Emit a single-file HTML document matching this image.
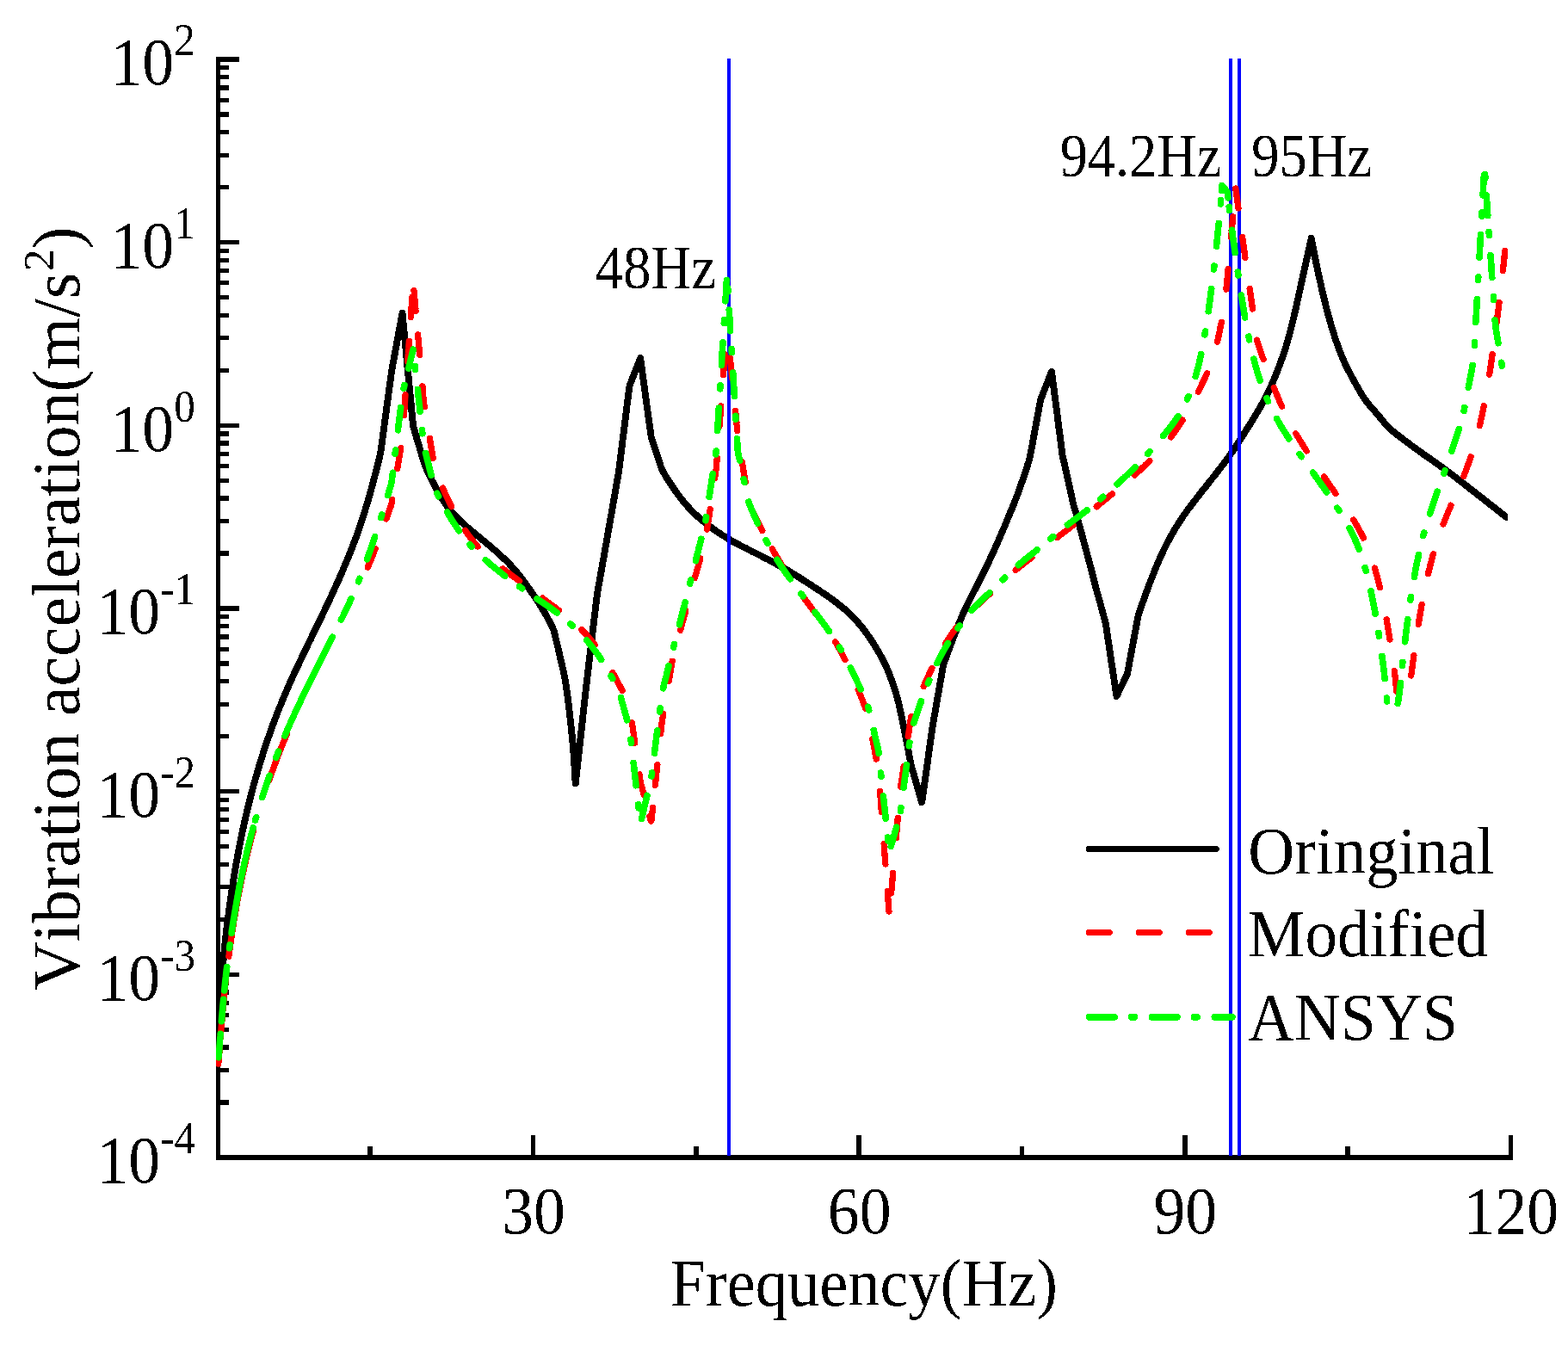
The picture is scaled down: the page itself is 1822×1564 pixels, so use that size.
<!DOCTYPE html>
<html><head><meta charset="utf-8"><title>Vibration acceleration vs Frequency</title>
<style>html,body{margin:0;padding:0;background:#fff}svg{display:block}text{font-family:"Liberation Serif","DejaVu Serif",serif;fill:#000;font-kerning:none;font-variant-ligatures:none}</style></head>
<body>
<svg width="1822" height="1564" viewBox="0 0 1822 1564">
<rect width="1822" height="1564" fill="#fff"/>
<defs><clipPath id="c"><rect x="251" y="60" width="1501.3" height="1290"/></clipPath><filter id="crisp" filterUnits="userSpaceOnUse" x="0" y="0" width="1822" height="1564" color-interpolation-filters="sRGB"><feComponentTransfer><feFuncA type="discrete" tableValues="0 1"/></feComponentTransfer></filter></defs>
<g filter="url(#crisp)">
<g fill="#000" shape-rendering="crispEdges">
<rect x="251.0" y="66.4" width="5.0" height="1281.4"/>
<rect x="251.0" y="1342.0" width="1507.0" height="5.8"/>
<rect x="253.5" y="66.4" width="24.1" height="5.2"/>
<rect x="253.5" y="215.0" width="12.5" height="5.2"/>
<rect x="253.5" y="177.6" width="12.5" height="5.2"/>
<rect x="253.5" y="151.0" width="12.5" height="5.2"/>
<rect x="253.5" y="130.4" width="12.5" height="5.2"/>
<rect x="253.5" y="113.6" width="12.5" height="5.2"/>
<rect x="253.5" y="99.3" width="12.5" height="5.2"/>
<rect x="253.5" y="87.0" width="12.5" height="5.2"/>
<rect x="253.5" y="76.1" width="12.5" height="5.2"/>
<rect x="253.5" y="279.0" width="24.1" height="5.2"/>
<rect x="253.5" y="427.7" width="12.5" height="5.2"/>
<rect x="253.5" y="390.2" width="12.5" height="5.2"/>
<rect x="253.5" y="363.7" width="12.5" height="5.2"/>
<rect x="253.5" y="343.1" width="12.5" height="5.2"/>
<rect x="253.5" y="326.2" width="12.5" height="5.2"/>
<rect x="253.5" y="312.0" width="12.5" height="5.2"/>
<rect x="253.5" y="299.7" width="12.5" height="5.2"/>
<rect x="253.5" y="288.8" width="12.5" height="5.2"/>
<rect x="253.5" y="491.7" width="24.1" height="5.2"/>
<rect x="253.5" y="640.3" width="12.5" height="5.2"/>
<rect x="253.5" y="602.9" width="12.5" height="5.2"/>
<rect x="253.5" y="576.3" width="12.5" height="5.2"/>
<rect x="253.5" y="555.7" width="12.5" height="5.2"/>
<rect x="253.5" y="538.9" width="12.5" height="5.2"/>
<rect x="253.5" y="524.6" width="12.5" height="5.2"/>
<rect x="253.5" y="512.3" width="12.5" height="5.2"/>
<rect x="253.5" y="501.4" width="12.5" height="5.2"/>
<rect x="253.5" y="704.4" width="24.1" height="5.2"/>
<rect x="253.5" y="853.0" width="12.5" height="5.2"/>
<rect x="253.5" y="815.5" width="12.5" height="5.2"/>
<rect x="253.5" y="789.0" width="12.5" height="5.2"/>
<rect x="253.5" y="768.4" width="12.5" height="5.2"/>
<rect x="253.5" y="751.5" width="12.5" height="5.2"/>
<rect x="253.5" y="737.3" width="12.5" height="5.2"/>
<rect x="253.5" y="725.0" width="12.5" height="5.2"/>
<rect x="253.5" y="714.1" width="12.5" height="5.2"/>
<rect x="253.5" y="917.0" width="24.1" height="5.2"/>
<rect x="253.5" y="1065.6" width="12.5" height="5.2"/>
<rect x="253.5" y="1028.2" width="12.5" height="5.2"/>
<rect x="253.5" y="1001.6" width="12.5" height="5.2"/>
<rect x="253.5" y="981.0" width="12.5" height="5.2"/>
<rect x="253.5" y="964.2" width="12.5" height="5.2"/>
<rect x="253.5" y="949.9" width="12.5" height="5.2"/>
<rect x="253.5" y="937.6" width="12.5" height="5.2"/>
<rect x="253.5" y="926.7" width="12.5" height="5.2"/>
<rect x="253.5" y="1129.7" width="24.1" height="5.2"/>
<rect x="253.5" y="1278.3" width="12.5" height="5.2"/>
<rect x="253.5" y="1240.8" width="12.5" height="5.2"/>
<rect x="253.5" y="1214.3" width="12.5" height="5.2"/>
<rect x="253.5" y="1193.7" width="12.5" height="5.2"/>
<rect x="253.5" y="1176.8" width="12.5" height="5.2"/>
<rect x="253.5" y="1162.6" width="12.5" height="5.2"/>
<rect x="253.5" y="1150.3" width="12.5" height="5.2"/>
<rect x="253.5" y="1139.4" width="12.5" height="5.2"/>
<rect x="253.5" y="1342.3" width="24.1" height="5.2"/>
<rect x="616.7" y="1318.9" width="5.6" height="26.0"/>
<rect x="995.3" y="1318.9" width="5.6" height="26.0"/>
<rect x="1374.0" y="1318.9" width="5.6" height="26.0"/>
<rect x="1752.6" y="1318.9" width="5.6" height="26.0"/>
<rect x="427.4" y="1332.0" width="5.6" height="12.9"/>
<rect x="806.0" y="1332.0" width="5.6" height="12.9"/>
<rect x="1184.7" y="1332.0" width="5.6" height="12.9"/>
<rect x="1563.3" y="1332.0" width="5.6" height="12.9"/>
</g>
<g clip-path="url(#c)" fill="none" stroke-linejoin="round" stroke-linecap="round" stroke-width="7.9">
<path d="M253.8,1185.0 L255.3,1165.0 L256.9,1145.5 L258.5,1127.0 L260.1,1109.8 L261.6,1094.4 L263.2,1080.5 L264.8,1067.9 L266.3,1056.1 L267.9,1044.9 L269.5,1034.2 L271.1,1023.9 L272.6,1014.2 L274.2,1005.0 L275.8,996.2 L277.4,987.8 L278.9,979.8 L280.5,972.0 L282.1,964.5 L283.6,957.3 L285.2,950.3 L286.8,943.6 L288.4,937.0 L289.9,930.7 L291.5,924.6 L293.1,918.6 L294.6,912.7 L296.2,907.1 L297.8,901.5 L299.4,896.1 L300.9,890.8 L302.5,885.7 L304.1,880.6 L305.6,875.6 L307.2,870.8 L308.8,866.0 L310.4,861.3 L311.9,856.7 L313.5,852.2 L315.1,847.8 L316.6,843.5 L318.2,839.2 L319.8,835.0 L321.4,830.9 L322.9,826.9 L324.5,822.9 L326.1,819.0 L327.6,815.1 L329.2,811.4 L330.8,807.6 L332.4,803.9 L333.9,800.3 L335.5,796.7 L337.1,793.2 L338.6,789.7 L340.2,786.2 L341.8,782.8 L343.4,779.4 L344.9,776.0 L346.5,772.7 L348.1,769.4 L349.7,766.1 L351.2,762.8 L352.8,759.5 L354.4,756.2 L355.9,752.9 L357.5,749.7 L359.1,746.4 L360.7,743.2 L362.2,740.0 L363.8,736.7 L365.4,733.5 L366.9,730.3 L368.5,727.0 L370.1,723.8 L371.7,720.5 L373.2,717.3 L374.8,714.0 L376.4,710.8 L377.9,707.5 L379.5,704.2 L381.1,700.9 L382.7,697.6 L384.2,694.2 L385.8,690.8 L387.4,687.4 L388.9,683.9 L390.5,680.5 L392.1,676.9 L393.7,673.4 L395.2,669.8 L396.8,666.2 L398.4,662.5 L399.9,658.8 L401.5,655.1 L403.1,651.3 L404.7,647.5 L406.2,643.7 L407.8,639.7 L409.4,635.8 L410.9,631.7 L412.5,627.5 L414.1,623.3 L415.7,618.9 L417.2,614.5 L418.8,609.9 L420.4,605.2 L422.0,600.3 L423.5,595.4 L425.1,590.2 L426.7,585.0 L428.2,579.6 L429.8,574.1 L431.4,568.4 L433.0,562.7 L434.5,556.8 L436.1,550.9 L437.7,544.9 L439.2,538.6 L440.8,532.0 L442.4,525.0 L444.0,513.4 L445.5,501.8 L447.1,490.1 L448.7,478.5 L450.2,466.9 L451.8,455.2 L453.4,443.6 L455.0,432.0 L456.5,423.3 L458.1,414.7 L459.7,406.1 L461.2,397.6 L462.8,389.0 L464.4,380.5 L466.0,372.0 L467.5,363.6 L469.1,380.3 L470.7,396.9 L472.2,413.4 L473.8,429.9 L475.4,446.3 L477.0,462.7 L478.5,478.9 L480.1,495.0 L481.7,500.4 L483.2,505.7 L484.8,511.0 L486.4,516.4 L488.0,521.7 L489.5,527.0 L491.1,532.3 L492.7,537.5 L494.3,541.5 L495.8,545.3 L497.4,548.8 L499.0,552.1 L500.5,555.4 L502.1,558.5 L503.7,561.6 L505.3,564.7 L506.8,567.6 L508.4,570.5 L510.0,573.3 L511.5,575.9 L513.1,578.5 L514.7,581.0 L516.3,583.3 L517.8,585.6 L519.4,587.8 L521.0,589.9 L522.5,591.9 L524.1,593.8 L525.7,595.7 L527.3,597.5 L528.8,599.2 L530.4,600.9 L532.0,602.5 L533.5,604.1 L535.1,605.6 L536.7,607.1 L538.3,608.5 L539.8,609.9 L541.4,611.3 L543.0,612.6 L544.5,614.0 L546.1,615.3 L547.7,616.6 L549.3,617.9 L550.8,619.1 L552.4,620.4 L554.0,621.7 L555.5,623.0 L557.1,624.3 L558.7,625.6 L560.3,626.9 L561.8,628.2 L563.4,629.5 L565.0,630.9 L566.6,632.2 L568.1,633.5 L569.7,634.9 L571.3,636.2 L572.8,637.5 L574.4,638.9 L576.0,640.3 L577.6,641.6 L579.1,643.0 L580.7,644.5 L582.3,645.9 L583.8,647.3 L585.4,648.8 L587.0,650.3 L588.6,651.9 L590.1,653.4 L591.7,655.1 L593.3,656.7 L594.8,658.4 L596.4,660.1 L598.0,661.9 L599.6,663.8 L601.1,665.7 L602.7,667.6 L604.3,669.7 L605.8,671.7 L607.4,673.8 L609.0,675.9 L610.6,678.1 L612.1,680.3 L613.7,682.5 L615.3,684.7 L616.8,687.0 L618.4,689.3 L620.0,691.6 L621.6,693.9 L623.1,696.2 L624.7,698.6 L626.3,701.0 L627.9,703.5 L629.4,706.0 L631.0,708.6 L632.6,711.3 L634.1,714.1 L635.7,716.9 L637.3,719.8 L638.9,722.8 L640.4,725.9 L642.0,729.2 L643.6,732.8 L645.1,739.2 L646.7,745.8 L648.3,752.4 L649.9,759.1 L651.4,765.8 L653.0,772.6 L654.6,779.5 L656.1,786.5 L657.7,796.3 L659.3,807.5 L660.9,820.2 L662.4,833.9 L664.0,848.0 L665.6,863.8 L667.1,884.1 L668.7,910.5 L670.3,896.3 L671.9,882.0 L673.4,867.8 L675.0,853.5 L676.6,839.3 L678.1,825.0 L679.7,810.7 L681.3,796.5 L682.9,783.2 L684.4,770.0 L686.0,756.7 L687.6,743.5 L689.1,730.3 L690.7,717.1 L692.3,703.9 L693.9,690.6 L695.4,681.7 L697.0,672.9 L698.6,664.0 L700.2,655.1 L701.7,646.3 L703.3,637.4 L704.9,628.5 L706.4,619.6 L708.0,610.7 L709.6,601.8 L711.2,592.8 L712.7,583.9 L714.3,575.0 L715.9,566.0 L717.4,557.0 L719.0,547.9 L720.6,535.2 L722.2,522.6 L723.7,510.0 L725.3,497.4 L726.9,484.9 L728.4,472.4 L730.0,460.1 L731.6,448.0 L733.2,444.0 L734.7,440.0 L736.3,435.9 L737.9,431.9 L739.4,427.9 L741.0,423.9 L742.6,419.9 L744.2,416.0 L745.7,427.7 L747.3,439.3 L748.9,450.9 L750.4,462.4 L752.0,474.0 L753.6,485.4 L755.2,496.8 L756.7,508.0 L758.3,512.9 L759.9,517.7 L761.4,522.5 L763.0,527.3 L764.6,532.1 L766.2,536.9 L767.7,541.5 L769.3,546.0 L770.9,548.8 L772.5,551.5 L774.0,554.0 L775.6,556.5 L777.2,559.0 L778.7,561.4 L780.3,563.8 L781.9,566.2 L783.5,568.5 L785.0,570.8 L786.6,573.0 L788.2,575.2 L789.7,577.2 L791.3,579.3 L792.9,581.3 L794.5,583.2 L796.0,585.1 L797.6,586.9 L799.2,588.7 L800.7,590.4 L802.3,592.0 L803.9,593.7 L805.5,595.2 L807.0,596.7 L808.6,598.2 L810.2,599.7 L811.7,601.1 L813.3,602.5 L814.9,603.8 L816.5,605.1 L818.0,606.4 L819.6,607.7 L821.2,608.9 L822.7,610.1 L824.3,611.3 L825.9,612.5 L827.5,613.7 L829.0,614.8 L830.6,615.9 L832.2,617.0 L833.7,618.1 L835.3,619.2 L836.9,620.2 L838.5,621.2 L840.0,622.2 L841.6,623.2 L843.2,624.2 L844.8,625.1 L846.3,626.1 L847.9,627.0 L849.5,627.9 L851.0,628.8 L852.6,629.7 L854.2,630.6 L855.8,631.4 L857.3,632.3 L858.9,633.1 L860.5,633.9 L862.0,634.7 L863.6,635.5 L865.2,636.3 L866.8,637.1 L868.3,637.9 L869.9,638.7 L871.5,639.5 L873.0,640.3 L874.6,641.1 L876.2,641.9 L877.8,642.6 L879.3,643.4 L880.9,644.2 L882.5,645.0 L884.0,645.8 L885.6,646.6 L887.2,647.4 L888.8,648.2 L890.3,649.0 L891.9,649.8 L893.5,650.6 L895.0,651.4 L896.6,652.2 L898.2,653.1 L899.8,653.9 L901.3,654.8 L902.9,655.7 L904.5,656.6 L906.1,657.4 L907.6,658.3 L909.2,659.2 L910.8,660.2 L912.3,661.1 L913.9,662.0 L915.5,662.9 L917.1,663.9 L918.6,664.8 L920.2,665.8 L921.8,666.8 L923.3,667.7 L924.9,668.7 L926.5,669.7 L928.1,670.7 L929.6,671.6 L931.2,672.6 L932.8,673.6 L934.3,674.6 L935.9,675.7 L937.5,676.7 L939.1,677.7 L940.6,678.7 L942.2,679.7 L943.8,680.8 L945.3,681.8 L946.9,682.8 L948.5,683.8 L950.1,684.9 L951.6,685.9 L953.2,687.0 L954.8,688.0 L956.3,689.1 L957.9,690.2 L959.5,691.2 L961.1,692.3 L962.6,693.4 L964.2,694.5 L965.8,695.7 L967.3,696.8 L968.9,698.0 L970.5,699.1 L972.1,700.3 L973.6,701.5 L975.2,702.8 L976.8,704.0 L978.4,705.3 L979.9,706.6 L981.5,708.0 L983.1,709.4 L984.6,710.8 L986.2,712.2 L987.8,713.7 L989.4,715.2 L990.9,716.8 L992.5,718.4 L994.1,720.1 L995.6,721.8 L997.2,723.6 L998.8,725.5 L1000.4,727.4 L1001.9,729.3 L1003.5,731.3 L1005.1,733.4 L1006.6,735.5 L1008.2,737.7 L1009.8,740.0 L1011.4,742.3 L1012.9,744.7 L1014.5,747.2 L1016.1,749.7 L1017.6,752.3 L1019.2,754.9 L1020.8,757.6 L1022.4,760.3 L1023.9,763.1 L1025.5,766.1 L1027.1,769.1 L1028.6,772.3 L1030.2,775.7 L1031.8,779.3 L1033.4,783.2 L1034.9,787.3 L1036.5,791.7 L1038.1,796.3 L1039.6,801.0 L1041.2,806.1 L1042.8,811.6 L1044.4,817.8 L1045.9,824.7 L1047.5,832.0 L1049.1,839.7 L1050.7,847.6 L1052.2,855.6 L1053.8,863.6 L1055.4,871.8 L1056.9,880.1 L1058.5,888.7 L1060.1,894.0 L1061.7,899.4 L1063.2,904.8 L1064.8,910.3 L1066.4,915.8 L1067.9,921.3 L1069.5,926.8 L1071.1,932.4 L1072.7,921.5 L1074.2,910.6 L1075.8,899.6 L1077.4,888.6 L1078.9,877.5 L1080.5,866.4 L1082.1,855.2 L1083.7,843.9 L1085.2,834.9 L1086.8,826.0 L1088.4,817.0 L1089.9,808.1 L1091.5,799.1 L1093.1,790.1 L1094.7,781.1 L1096.2,772.0 L1097.8,767.9 L1099.4,763.7 L1100.9,759.4 L1102.5,755.1 L1104.1,750.9 L1105.7,746.7 L1107.2,742.5 L1108.8,738.4 L1110.4,734.4 L1111.9,730.4 L1113.5,726.5 L1115.1,722.6 L1116.7,718.8 L1118.2,715.1 L1119.8,711.5 L1121.4,708.0 L1123.0,704.6 L1124.5,701.4 L1126.1,698.2 L1127.7,695.1 L1129.2,692.0 L1130.8,688.9 L1132.4,685.9 L1134.0,682.8 L1135.5,679.7 L1137.1,676.6 L1138.7,673.5 L1140.2,670.4 L1141.8,667.3 L1143.4,664.1 L1145.0,660.9 L1146.5,657.7 L1148.1,654.5 L1149.7,651.2 L1151.2,647.8 L1152.8,644.5 L1154.4,641.0 L1156.0,637.6 L1157.5,634.0 L1159.1,630.5 L1160.7,626.9 L1162.2,623.3 L1163.8,619.6 L1165.4,615.9 L1167.0,612.2 L1168.5,608.5 L1170.1,604.8 L1171.7,601.0 L1173.2,597.2 L1174.8,593.4 L1176.4,589.6 L1178.0,585.7 L1179.5,581.7 L1181.1,577.7 L1182.7,573.6 L1184.2,569.3 L1185.8,564.9 L1187.4,560.4 L1189.0,555.9 L1190.5,551.2 L1192.1,546.5 L1193.7,541.5 L1195.3,536.4 L1196.8,531.0 L1198.4,522.5 L1200.0,513.9 L1201.5,505.5 L1203.1,497.0 L1204.7,488.6 L1206.3,480.1 L1207.8,471.8 L1209.4,463.7 L1211.0,459.7 L1212.5,455.7 L1214.1,451.7 L1215.7,447.7 L1217.3,443.7 L1218.8,439.7 L1220.4,435.7 L1222.0,431.7 L1223.5,443.7 L1225.1,455.8 L1226.7,467.9 L1228.3,480.1 L1229.8,492.2 L1231.4,504.4 L1233.0,516.7 L1234.5,529.0 L1236.1,535.9 L1237.7,542.8 L1239.3,549.8 L1240.8,556.9 L1242.4,564.0 L1244.0,571.2 L1245.5,578.3 L1247.1,585.6 L1248.7,590.9 L1250.3,596.3 L1251.8,602.0 L1253.4,607.7 L1255.0,613.4 L1256.6,619.1 L1258.1,624.9 L1259.7,630.7 L1261.3,636.5 L1262.8,642.4 L1264.4,648.2 L1266.0,654.1 L1267.6,660.0 L1269.1,666.0 L1270.7,672.2 L1272.3,678.7 L1273.8,684.4 L1275.4,690.1 L1277.0,695.8 L1278.6,701.5 L1280.1,707.2 L1281.7,713.0 L1283.3,718.7 L1284.8,724.5 L1286.4,735.2 L1288.0,745.8 L1289.6,756.4 L1291.1,766.9 L1292.7,777.5 L1294.3,788.0 L1295.8,798.5 L1297.4,809.0 L1299.0,805.7 L1300.6,802.4 L1302.1,799.2 L1303.7,795.9 L1305.3,792.6 L1306.8,789.3 L1308.4,786.0 L1310.0,782.8 L1311.6,774.4 L1313.1,766.0 L1314.7,757.6 L1316.3,749.2 L1317.8,740.7 L1319.4,732.3 L1321.0,723.9 L1322.6,715.5 L1324.1,710.7 L1325.7,706.1 L1327.3,701.5 L1328.9,697.1 L1330.4,692.7 L1332.0,688.4 L1333.6,684.1 L1335.1,679.9 L1336.7,675.7 L1338.3,671.6 L1339.9,667.6 L1341.4,663.7 L1343.0,659.9 L1344.6,656.1 L1346.1,652.5 L1347.7,648.9 L1349.3,645.4 L1350.9,642.0 L1352.4,638.7 L1354.0,635.5 L1355.6,632.4 L1357.1,629.4 L1358.7,626.4 L1360.3,623.5 L1361.9,620.7 L1363.4,618.0 L1365.0,615.3 L1366.6,612.7 L1368.1,610.1 L1369.7,607.7 L1371.3,605.2 L1372.9,602.9 L1374.4,600.5 L1376.0,598.3 L1377.6,596.0 L1379.1,593.8 L1380.7,591.7 L1382.3,589.5 L1383.9,587.4 L1385.4,585.4 L1387.0,583.3 L1388.6,581.3 L1390.1,579.2 L1391.7,577.2 L1393.3,575.2 L1394.9,573.2 L1396.4,571.2 L1398.0,569.2 L1399.6,567.3 L1401.2,565.3 L1402.7,563.3 L1404.3,561.3 L1405.9,559.3 L1407.4,557.4 L1409.0,555.4 L1410.6,553.4 L1412.2,551.4 L1413.7,549.4 L1415.3,547.3 L1416.9,545.3 L1418.4,543.3 L1420.0,541.2 L1421.6,539.1 L1423.2,537.0 L1424.7,534.9 L1426.3,532.7 L1427.9,530.5 L1429.4,528.3 L1431.0,526.1 L1432.6,523.8 L1434.2,521.5 L1435.7,519.1 L1437.3,516.7 L1438.9,514.3 L1440.4,511.9 L1442.0,509.4 L1443.6,506.9 L1445.2,504.5 L1446.7,502.0 L1448.3,499.5 L1449.9,497.0 L1451.4,494.6 L1453.0,492.1 L1454.6,489.5 L1456.2,486.9 L1457.7,484.3 L1459.3,481.7 L1460.9,479.0 L1462.4,476.3 L1464.0,473.7 L1465.6,470.9 L1467.2,468.2 L1468.7,465.3 L1470.3,462.4 L1471.9,459.4 L1473.5,456.2 L1475.0,452.9 L1476.6,449.5 L1478.2,446.0 L1479.7,442.3 L1481.3,438.5 L1482.9,434.6 L1484.5,430.6 L1486.0,426.5 L1487.6,422.3 L1489.2,417.9 L1490.7,413.4 L1492.3,408.8 L1493.9,403.9 L1495.5,398.7 L1497.0,393.3 L1498.6,387.6 L1500.2,381.6 L1501.7,375.2 L1503.3,368.7 L1504.9,361.9 L1506.5,355.0 L1508.0,348.0 L1509.6,340.8 L1511.2,333.7 L1512.7,326.6 L1514.3,319.4 L1515.9,312.3 L1517.5,305.2 L1519.0,298.1 L1520.6,291.0 L1522.2,283.9 L1523.7,276.9 L1525.3,285.4 L1526.9,293.6 L1528.5,301.4 L1530.0,309.0 L1531.6,316.3 L1533.2,323.5 L1534.8,330.6 L1536.3,337.5 L1537.9,344.2 L1539.5,350.6 L1541.0,356.9 L1542.6,362.9 L1544.2,368.7 L1545.8,374.3 L1547.3,379.7 L1548.9,384.9 L1550.5,389.9 L1552.0,394.7 L1553.6,399.3 L1555.2,403.6 L1556.8,407.8 L1558.3,411.8 L1559.9,415.7 L1561.5,419.3 L1563.0,422.8 L1564.6,426.1 L1566.2,429.2 L1567.8,432.3 L1569.3,435.2 L1570.9,438.1 L1572.5,441.0 L1574.0,443.8 L1575.6,446.6 L1577.2,449.4 L1578.8,452.2 L1580.3,454.9 L1581.9,457.6 L1583.5,460.1 L1585.0,462.5 L1586.6,464.8 L1588.2,466.9 L1589.8,468.9 L1591.3,470.8 L1592.9,472.7 L1594.5,474.4 L1596.0,476.2 L1597.6,478.0 L1599.2,479.8 L1600.8,481.7 L1602.3,483.6 L1603.9,485.5 L1605.5,487.5 L1607.1,489.4 L1608.6,491.3 L1610.2,493.1 L1611.8,494.8 L1613.3,496.4 L1614.9,497.9 L1616.5,499.4 L1618.1,500.8 L1619.6,502.1 L1621.2,503.3 L1622.8,504.6 L1624.3,505.8 L1625.9,506.9 L1627.5,508.1 L1629.1,509.3 L1630.6,510.5 L1632.2,511.7 L1633.8,512.8 L1635.3,514.0 L1636.9,515.2 L1638.5,516.4 L1640.1,517.6 L1641.6,518.7 L1643.2,519.9 L1644.8,521.0 L1646.3,522.2 L1647.9,523.3 L1649.5,524.5 L1651.1,525.6 L1652.6,526.7 L1654.2,527.8 L1655.8,529.0 L1657.3,530.1 L1658.9,531.2 L1660.5,532.2 L1662.1,533.3 L1663.6,534.4 L1665.2,535.5 L1666.8,536.6 L1668.3,537.7 L1669.9,538.8 L1671.5,539.9 L1673.1,541.1 L1674.6,542.2 L1676.2,543.3 L1677.8,544.5 L1679.4,545.6 L1680.9,546.8 L1682.5,547.9 L1684.1,549.1 L1685.6,550.3 L1687.2,551.5 L1688.8,552.7 L1690.4,553.9 L1691.9,555.1 L1693.5,556.3 L1695.1,557.5 L1696.6,558.7 L1698.2,559.9 L1699.8,561.2 L1701.4,562.4 L1702.9,563.6 L1704.5,564.9 L1706.1,566.1 L1707.6,567.3 L1709.2,568.6 L1710.8,569.8 L1712.4,571.0 L1713.9,572.3 L1715.5,573.5 L1717.1,574.7 L1718.6,576.0 L1720.2,577.2 L1721.8,578.4 L1723.4,579.7 L1724.9,580.9 L1726.5,582.1 L1728.1,583.3 L1729.6,584.5 L1731.2,585.8 L1732.8,587.0 L1734.4,588.2 L1735.9,589.5 L1737.5,590.7 L1739.1,592.0 L1740.6,593.2 L1742.2,594.5 L1743.8,595.8 L1745.4,597.0 L1746.9,598.3 L1748.5,599.6 L1750.1,600.8" stroke="#000"/>
<g stroke="#0000ff" stroke-width="4" stroke-linecap="butt" shape-rendering="crispEdges"><line x1="847" y1="68" x2="847" y2="1343"/><line x1="1430.1" y1="68" x2="1430.1" y2="1343"/><line x1="1439.9" y1="68" x2="1439.9" y2="1343"/></g>
<path d="M253.8,1236.0L253.9,1234.0L254.1,1232.1L254.2,1230.2L254.4,1228.2L254.5,1226.3L254.7,1224.3L254.8,1222.4L255.0,1220.4L255.2,1218.5L255.3,1216.5L255.5,1214.6L255.5,1214.1M258.7,1176.0L258.8,1174.1L259.0,1172.1L259.2,1170.1L259.4,1168.2L259.6,1166.2L259.7,1164.2L259.9,1162.3L260.1,1160.3L260.3,1158.3L260.5,1156.3L260.7,1154.4L260.9,1152.4M265.8,1111.1L266.1,1109.2L266.3,1107.2L266.6,1105.2L266.9,1103.3L267.2,1101.3L267.4,1099.4L267.7,1097.4L268.0,1095.5L268.3,1093.5L268.6,1091.6L268.8,1089.6L269.1,1087.7M275.3,1049.9L275.7,1047.9L276.0,1046.0L276.4,1044.2L276.7,1042.3L277.1,1040.4L277.4,1038.6L277.8,1036.7L278.2,1034.8L278.6,1032.9L278.9,1031.0L279.3,1029.1L279.7,1027.1L279.8,1026.7M427.3,659.4L428.0,657.6L428.8,655.8L429.5,654.2L430.2,652.5L430.9,650.8L431.6,649.1L432.3,647.3L433.0,645.6L433.7,643.8L434.4,642.1L435.0,640.3L435.7,638.5L436.1,637.6M448.8,603.0L449.5,601.3L450.1,599.5L450.7,597.8L451.3,596.0L452.0,594.3L452.6,592.5L453.2,590.7L453.9,588.9L454.5,587.1L455.0,585.3L455.4,583.4L455.7,581.5L455.8,580.5M461.8,544.4L462.1,542.5L462.4,540.6L462.7,538.7L463.1,536.8L463.4,534.9L463.7,533.0L464.0,531.1L464.3,529.2L464.6,527.3L464.9,525.4L465.3,523.5L465.6,521.6L465.7,520.7M469.4,482.9L469.5,480.9L469.7,478.9L469.8,476.9L469.9,474.9L470.1,472.9L470.2,470.9L470.3,468.9L470.5,466.9L470.6,464.9L470.7,462.9L470.9,460.9L471.0,459.0M473.7,420.2L473.8,418.2L474.0,416.2L474.1,414.3L474.2,412.3L474.4,410.3L474.5,408.3L474.6,406.3L474.8,404.3L474.9,402.3L475.0,400.4L475.2,398.4L475.3,396.4M477.2,368.7L477.4,366.7L477.5,364.8L477.6,362.8L477.8,360.8L477.9,358.8L478.1,356.9L478.2,354.9L478.3,352.9L478.5,351.0L478.6,349.0L478.7,347.0L478.9,345.1M481.0,337.7L481.2,339.7L481.4,341.6L481.5,343.6L481.7,345.6L481.9,347.5L482.1,349.5L482.2,351.5L482.4,353.4L482.6,355.4L482.8,357.4L482.9,359.3L483.1,361.3M485.6,388.8L485.7,390.8L485.9,392.7L486.1,394.7L486.3,396.7L486.4,398.6L486.6,400.6L486.8,402.6L487.0,404.5L487.1,406.5L487.3,408.5L487.5,410.4L487.7,412.4M490.9,448.9L491.1,450.9L491.2,452.9L491.4,454.8L491.6,456.8L491.8,458.8L491.9,460.8L492.1,462.8L492.3,464.8L492.5,466.7L492.6,468.7L492.9,470.7L493.2,472.6M499.3,509.1L499.6,511.0L499.9,512.9L500.2,514.8L500.5,516.6L500.9,518.6L501.2,520.6L501.5,522.6L501.9,524.5L502.2,526.5L502.5,528.5L502.9,530.4L503.2,532.4M514.5,567.1L515.3,568.9L516.1,570.6L516.8,572.4L517.6,574.1L518.4,575.8L519.2,577.5L520.0,579.2L520.8,580.8L521.6,582.5L522.3,584.1L523.1,585.7L523.9,587.3L524.6,588.6M540.6,616.4L541.7,617.9L542.7,619.4L543.8,620.9L544.8,622.4L545.9,623.8L546.9,625.1L548.0,626.5L549.0,627.8L550.2,629.3L551.5,630.8L552.7,632.3L554.0,633.7L555.2,635.1M584.2,660.8L585.8,662.0L587.4,663.2L588.9,664.3L590.5,665.5L592.1,666.7L593.7,667.9L595.2,669.0L596.8,670.2L598.4,671.3L600.0,672.5L601.5,673.7L603.1,674.8L603.5,675.1M630.2,694.9L631.8,696.1L633.4,697.3L634.9,698.4L636.5,699.6L638.1,700.8L639.6,701.9L641.2,703.1L642.8,704.3L644.4,705.4L645.9,706.6L647.5,707.8L649.1,709.0L649.5,709.3M675.6,731.5L676.9,732.8L678.1,734.1L679.4,735.4L680.7,736.7L681.9,738.1L683.2,739.5L684.4,741.0L685.7,742.4L686.9,744.0L688.1,745.4L689.1,746.7L690.2,748.0L691.2,749.4M711.8,781.5L712.7,783.1L713.6,784.8L714.5,786.4L715.4,788.0L716.3,789.7L717.2,791.4L718.1,793.1L719.0,794.7L719.9,796.4L720.8,798.2L721.7,799.9L722.6,801.6L723.1,802.5M734.5,840.0L734.7,842.0L735.0,843.9L735.3,845.8L735.5,847.8L735.8,849.7L736.1,851.7L736.4,853.6L736.6,855.5L736.9,857.5L737.2,859.4L737.5,861.3L737.7,863.3M742.9,899.8L743.2,901.8L743.5,903.7L743.7,905.6L744.0,907.5L744.4,909.4L744.9,911.3L745.4,913.1L745.9,915.0L746.3,916.8L746.8,918.6L747.3,920.5L747.8,922.3L748.0,923.2M754.9,948.5L755.4,950.3L755.9,952.2L756.5,954.1L757.0,952.6L757.2,950.7L757.4,948.7L757.6,946.8L757.8,944.9L758.0,942.9L758.3,941.0L758.5,939.1L758.6,938.1M761.3,912.3L761.6,910.3L761.8,908.3L762.0,906.4L762.2,904.4L762.4,902.5L762.6,900.5L762.8,898.5L763.0,896.6L763.2,894.6L763.4,892.7L763.6,890.7L763.9,888.7M767.7,852.8L767.9,850.9L768.1,848.9L768.3,846.9L768.5,844.9L768.7,842.9L768.9,841.0L769.2,839.0L769.4,837.0L769.7,835.1L770.1,833.1L770.4,831.2L770.7,829.3M777.2,791.5L777.5,789.5L777.8,787.6L778.2,785.6L778.5,783.7L778.8,781.7L779.2,779.8L779.5,777.8L779.8,775.9L780.1,773.9L780.5,772.0L780.8,770.0L781.1,768.1M790.5,732.4L791.1,730.5L791.6,728.6L792.1,726.7L792.6,724.8L793.1,722.9L793.7,721.0L794.2,719.1L794.7,717.2L795.2,715.4L795.8,713.5L796.3,711.6L796.8,709.7M807.4,671.5L807.9,669.7L808.5,667.8L809.0,665.9L809.5,664.1L810.0,662.2L810.6,660.3L811.1,658.4L811.6,656.6L812.1,654.7L812.7,652.9L813.2,651.0L813.7,649.1L813.8,648.7M821.6,615.2L821.9,613.2L822.2,611.2L822.5,609.2L822.8,607.3L823.1,605.4L823.4,603.5L823.7,601.6L824.0,599.7L824.2,597.9L824.5,596.0L824.8,594.1L825.1,592.2L825.2,591.7M830.6,555.7L830.9,553.8L831.2,551.9L831.5,550.0L831.7,548.1L832.0,546.2L832.3,544.2L832.4,542.3L832.6,540.3L832.7,538.3L832.9,536.3L833.0,534.4L833.2,532.4L833.2,531.9M836.0,495.4L836.1,493.4L836.3,491.4L836.4,489.5L836.6,487.5L836.7,485.5L836.9,483.6L837.0,481.6L837.2,479.6L837.3,477.7L837.5,475.7L837.6,473.7L837.8,471.8M840.5,435.4L840.7,433.4L840.8,431.5L841.0,429.5L841.1,427.5L841.3,425.6L841.4,423.6L841.6,421.6L841.7,419.7L841.9,417.7L842.0,415.8L842.2,413.8L842.3,411.8M848.3,415.8L848.5,417.7L848.7,419.7L848.9,421.7L849.1,423.6L849.3,425.6L849.5,427.6L849.7,429.5L849.9,431.5L850.1,433.4L850.3,435.4L850.5,437.4L850.7,439.3M854.5,477.1L854.7,479.1L854.9,481.0L855.1,483.0L855.3,484.9L855.5,486.9L855.7,488.8L855.9,490.8L856.0,492.8L856.2,494.7L856.4,496.7L856.6,498.6L856.8,500.6M862.4,536.8L862.7,538.8L863.0,540.7L863.3,542.7L863.6,544.7L863.9,546.7L864.2,548.6L864.6,550.6L864.9,552.6L865.2,554.5L865.5,556.4L865.8,558.3L866.1,560.2M875.2,595.5L876.0,597.1L876.8,598.7L877.6,600.2L878.3,601.8L879.1,603.4L880.0,605.1L880.9,606.9L881.8,608.7L882.7,610.4L883.6,612.2L884.5,613.9L885.4,615.7L885.8,616.5M897.3,637.8L898.2,639.4L899.1,641.0L900.0,642.6L900.9,644.1L901.8,645.7L902.7,647.2L903.6,648.7L904.5,650.2L905.4,651.7L906.3,653.2L907.2,654.7L908.1,656.3L909.2,658.0M934.3,694.9L935.4,696.4L936.4,697.8L937.5,699.2L938.5,700.6L939.6,702.0L940.6,703.4L941.7,704.8L942.7,706.2L943.8,707.6L944.8,709.0L945.9,710.4L946.9,711.7L948.0,713.1L948.5,713.8M970.7,745.9L971.6,747.4L972.5,749.0L973.4,750.5L974.3,752.1L975.2,753.8L976.1,755.4L977.0,757.1L977.9,758.8L978.8,760.5L979.7,762.3L980.5,763.9L981.3,765.5L981.9,766.7M997.2,801.5L997.9,803.2L998.6,804.9L999.3,806.6L1000.0,808.4L1000.7,810.1L1001.4,811.9L1002.1,813.6L1002.8,815.4L1003.5,817.2L1004.2,819.0L1004.9,820.8L1005.6,822.6L1005.9,823.5M1013.8,858.8L1014.1,860.7L1014.5,862.6L1014.9,864.6L1015.2,866.5L1015.6,868.4L1016.0,870.3L1016.4,872.3L1016.7,874.2L1017.1,876.1L1017.5,878.0L1017.8,880.0L1018.2,881.9M1022.6,919.5L1022.7,921.5L1022.9,923.5L1023.0,925.5L1023.2,927.4L1023.3,929.4L1023.5,931.4L1023.6,933.3L1023.7,935.3L1023.9,937.3L1024.0,939.2L1024.2,941.2L1024.3,943.2M1027.1,980.5L1027.3,982.4L1027.4,984.4L1027.6,986.4L1027.7,988.3L1027.8,990.3L1028.0,992.2L1028.1,994.2L1028.3,996.2L1028.4,998.1L1028.6,1000.1L1028.7,1002.0L1028.9,1004.0M1031.2,1035.3L1031.4,1037.3L1031.5,1039.2L1031.6,1041.2L1031.8,1043.1L1031.9,1045.1L1032.1,1047.1L1032.2,1049.1L1032.4,1051.1L1032.5,1053.1L1032.7,1055.1L1032.8,1057.0L1033.0,1059.0M1035.7,1037.8L1035.8,1035.8L1036.0,1033.9L1036.2,1031.9L1036.3,1030.0L1036.5,1028.0L1036.7,1026.1L1036.8,1024.1L1037.0,1022.2L1037.2,1020.2L1037.4,1018.3L1037.5,1016.3L1037.7,1014.4M1041.2,973.8L1041.4,971.8L1041.6,969.9L1041.7,967.9L1041.9,965.9L1042.1,964.0L1042.2,962.0L1042.4,960.1L1042.6,958.1L1042.8,956.1L1042.9,954.2L1043.1,952.2L1043.3,950.2M1046.7,914.2L1046.9,912.2L1047.2,910.2L1047.5,908.2L1047.8,906.3L1048.1,904.3L1048.4,902.4L1048.7,900.4L1048.9,898.4L1049.2,896.5L1049.5,894.6L1049.8,892.6L1050.1,890.7M1055.2,855.7L1055.5,853.8L1055.8,851.9L1056.1,849.9L1056.4,848.0L1056.7,846.0L1056.9,844.1L1057.2,842.1L1057.5,840.2L1057.8,838.2L1058.1,836.2L1058.4,834.3L1058.9,832.4M1073.2,797.7L1074.0,795.9L1074.8,794.1L1075.6,792.4L1076.4,790.6L1077.2,788.8L1078.0,787.1L1078.7,785.4L1079.5,783.6L1080.3,782.0L1081.1,780.3L1081.9,778.6L1082.7,777.0L1083.1,776.2M1098.3,748.2L1099.4,746.5L1100.4,744.9L1101.5,743.3L1102.5,741.7L1103.6,740.1L1104.6,738.6L1105.7,737.1L1106.7,735.6L1107.8,734.1L1108.8,732.7L1109.9,731.3L1110.9,729.9L1111.9,728.6M1133.0,705.6L1134.3,704.4L1135.5,703.2L1136.8,702.1L1138.0,700.9L1139.3,699.8L1140.6,698.6L1141.8,697.5L1143.1,696.3L1144.3,695.2L1145.6,694.1L1146.8,692.9L1148.1,691.8L1149.4,690.7L1150.6,689.5M1180.2,662.4L1181.4,661.4L1182.7,660.3L1183.9,659.3L1185.2,658.3L1186.5,657.3L1187.8,656.2L1189.4,655.0L1190.9,653.8L1192.5,652.6L1194.1,651.4L1195.6,650.2L1197.2,649.0L1198.8,647.8M1228.3,624.7L1229.8,623.5L1231.4,622.3L1233.0,621.0L1234.5,619.8L1236.1,618.6L1237.7,617.4L1239.3,616.2L1240.8,615.0L1242.4,613.8L1244.0,612.6L1245.5,611.3L1247.1,610.1M1274.2,588.7L1275.4,587.6L1276.7,586.6L1277.9,585.6L1279.2,584.6L1280.4,583.6L1281.7,582.5L1283.0,581.5L1284.2,580.5L1285.5,579.5L1286.7,578.4L1288.0,577.4L1289.2,576.4L1290.5,575.3L1291.8,574.3L1292.4,573.8M1318.2,552.0L1319.4,550.9L1320.7,549.8L1321.9,548.6L1323.2,547.5L1324.5,546.4L1325.7,545.2L1327.0,544.1L1328.2,542.9L1329.5,541.7L1330.7,540.5L1332.0,539.3L1333.3,538.1L1334.5,536.9L1335.8,535.7M1360.5,507.8L1361.6,506.5L1362.6,505.1L1363.7,503.7L1364.7,502.2L1365.8,500.8L1366.8,499.3L1367.9,497.8L1368.9,496.2L1370.0,494.7L1371.0,493.1L1372.1,491.5L1373.1,489.8L1374.2,488.2M1392.3,455.2L1393.1,453.6L1393.9,452.0L1394.7,450.4L1395.5,448.8L1396.2,447.2L1397.0,445.6L1397.8,444.0L1398.6,442.3L1399.4,440.7L1400.2,439.1L1401.0,437.4L1401.7,435.8L1402.5,434.1L1402.7,433.7M1414.6,397.1L1415.0,395.2L1415.4,393.3L1415.8,391.4L1416.2,389.5L1416.6,387.6L1417.0,385.7L1417.4,383.8L1417.8,381.9L1418.1,380.0L1418.5,378.1L1418.9,376.2L1419.3,374.3M1425.0,336.1L1425.1,334.2L1425.3,332.2L1425.5,330.2L1425.7,328.3L1425.9,326.3L1426.0,324.4L1426.2,322.4L1426.4,320.4L1426.6,318.5L1426.7,316.5L1426.9,314.6L1427.1,312.6M1430.5,275.4L1430.7,273.4L1430.9,271.5L1431.1,269.5L1431.2,267.6L1431.4,265.6L1431.6,263.6L1431.8,261.7L1432.0,259.7L1432.1,257.8L1432.3,255.8L1432.5,253.8L1432.7,251.9M1435.8,219.0L1436.1,220.9L1436.3,222.9L1436.6,224.9L1436.9,226.8L1437.2,228.8L1437.4,230.7L1437.7,232.7L1438.0,234.7L1438.3,236.6L1438.5,238.6L1438.8,240.6L1439.0,242.0M1443.7,275.6L1443.9,277.6L1444.2,279.5L1444.5,281.5L1444.8,283.5L1445.0,285.5L1445.3,287.4L1445.6,289.4L1445.8,291.4L1446.1,293.4L1446.4,295.3L1446.7,297.3L1446.9,299.3M1452.1,335.3L1452.3,337.2L1452.6,339.1L1452.9,340.9L1453.2,342.8L1453.4,344.7L1453.7,346.6L1454.0,348.5L1454.2,350.4L1454.5,352.3L1454.8,354.2L1455.1,356.1L1455.3,358.0L1455.5,359.0M1460.7,395.1L1461.0,396.9L1461.6,398.7L1462.2,400.4L1462.8,402.2L1463.4,404.1L1464.0,406.0L1464.7,407.8L1465.3,409.7L1465.9,411.5L1466.5,413.3L1467.2,415.1L1467.8,416.8L1468.1,417.7M1480.3,450.4L1481.0,452.2L1481.7,453.9L1482.4,455.6L1483.1,457.3L1483.8,459.0L1484.5,460.7L1485.2,462.3L1485.9,464.0L1486.6,465.7L1487.4,467.5L1488.2,469.3L1489.0,471.0L1489.6,472.3M1505.8,503.8L1506.7,505.3L1507.6,506.8L1508.5,508.4L1509.4,509.9L1510.3,511.3L1511.2,512.8L1512.2,514.5L1513.3,516.2L1514.3,517.9L1515.4,519.5L1516.4,521.2L1517.5,522.8L1518.2,524.0M1538.4,553.9L1539.5,555.4L1540.5,556.9L1541.6,558.4L1542.6,559.9L1543.7,561.4L1544.7,562.9L1545.8,564.4L1546.8,565.9L1547.8,567.4L1548.9,568.9L1549.9,570.4L1551.0,571.9L1552.0,573.4M1572.7,604.1L1573.8,605.8L1574.7,607.4L1575.6,608.9L1576.5,610.4L1577.4,612.0L1578.3,613.6L1579.2,615.2L1580.1,616.9L1581.0,618.6L1581.9,620.3L1582.7,621.9L1583.5,623.5L1584.3,625.1M1597.3,659.9L1597.9,661.7L1598.4,663.5L1598.9,665.3L1599.4,667.1L1599.9,668.9L1600.4,670.7L1600.9,672.5L1601.4,674.4L1601.9,676.3L1602.3,678.2L1602.8,680.0L1603.2,681.9L1603.5,682.8M1611.1,719.8L1611.4,721.8L1611.8,723.7L1612.1,725.6L1612.4,727.6L1612.8,729.5L1613.1,731.4L1613.4,733.3L1613.7,735.3L1614.0,737.2L1614.4,739.1L1614.7,741.0L1615.0,743.0M1620.3,779.7L1620.5,781.6L1620.7,783.5L1621.0,785.5L1621.2,787.4L1621.4,789.3L1621.6,791.3L1621.8,793.3L1622.0,795.3L1622.2,797.2L1622.4,799.2L1622.6,801.2L1622.8,803.1M1639.7,785.0L1640.0,783.1L1640.3,781.1L1640.5,779.2L1640.8,777.2L1641.0,775.3L1641.3,773.3L1641.6,771.4L1641.8,769.4L1642.1,767.5L1642.3,765.5L1642.6,763.5L1642.9,761.6M1648.2,725.5L1648.5,723.6L1648.8,721.7L1649.1,719.8L1649.4,717.8L1649.7,715.9L1650.1,714.0L1650.4,712.0L1650.7,710.1L1651.1,708.2L1651.4,706.2L1651.8,704.3L1652.1,702.4M1659.5,666.8L1659.9,664.9L1660.4,663.0L1660.9,661.1L1661.3,659.1L1661.8,657.2L1662.3,655.3L1662.8,653.5L1663.3,651.7L1663.8,649.8L1664.3,647.9L1664.8,646.1L1665.3,644.2L1665.5,643.7M1677.1,609.0L1677.8,607.2L1678.5,605.4L1679.2,603.6L1679.9,601.9L1680.6,600.1L1681.3,598.4L1682.0,596.7L1682.7,595.0L1683.4,593.4L1684.1,591.7L1684.8,590.1L1685.5,588.4L1686.0,587.1M1700.7,553.3L1701.4,551.6L1702.1,549.8L1702.8,548.1L1703.5,546.3L1704.1,544.5L1704.8,542.7L1705.5,540.8L1706.2,538.9L1706.9,537.2L1707.5,535.4L1708.1,533.6L1708.7,531.8L1709.1,530.9M1719.3,494.5L1719.8,492.6L1720.2,490.7L1720.6,488.9L1721.1,487.0L1721.5,485.1L1721.9,483.2L1722.3,481.3L1722.7,479.4L1723.1,477.6L1723.5,475.7L1723.8,473.8L1724.2,471.9L1724.3,471.5M1730.6,435.2L1730.9,433.4L1731.2,431.5L1731.5,429.6L1731.8,427.7L1732.1,425.8L1732.4,423.9L1732.6,422.0L1732.9,420.1L1733.2,418.1L1733.5,416.1L1733.8,414.2L1734.1,412.2L1734.1,411.7M1739.1,374.6L1739.4,372.7L1739.6,370.8L1739.9,368.9L1740.1,366.9L1740.3,365.0L1740.6,363.1L1740.8,361.1L1741.1,359.2L1741.3,357.2L1741.6,355.2L1741.8,353.3L1742.0,351.3M1746.3,314.6L1746.6,312.6L1746.8,310.7L1747.0,308.7L1747.2,306.8L1747.4,304.9L1747.6,302.9L1747.8,301.0L1748.0,299.0L1748.2,297.1L1748.4,295.2L1748.6,293.2L1748.8,291.3M256.2,1205.8L256.3,1203.9L256.5,1201.9L256.6,1200.0L256.8,1198.0L257.0,1196.1L257.1,1194.1L257.3,1192.2L257.5,1190.2L257.6,1188.2L257.8,1186.3L258.0,1184.3L258.1,1182.4L258.3,1180.4L258.4,1178.5L258.6,1176.5L258.8,1174.5L259.0,1172.6L259.2,1170.6L259.3,1168.7L259.5,1166.7L259.7,1164.7L259.9,1162.8L260.1,1160.8L260.3,1158.8L260.5,1156.8L260.7,1154.9L260.9,1152.9L261.1,1150.9L261.3,1148.9L261.5,1146.9L261.7,1145.0L261.9,1143.0L262.1,1141.0L262.4,1139.0L262.4,1138.5M270.0,1081.9L270.3,1079.9L270.6,1078.0L270.9,1076.1L271.2,1074.1L271.5,1072.2L271.8,1070.2L272.2,1068.3L272.5,1066.4L272.8,1064.4L273.0,1063.5M270.8,1077.0L271.1,1075.1L271.4,1073.1L271.7,1071.2L272.0,1069.3L272.3,1067.3L272.6,1065.4L273.0,1063.5L273.3,1061.5L273.6,1059.6L274.0,1057.6L274.3,1055.7L274.6,1053.8L275.0,1051.8L275.3,1049.9L275.7,1047.9L276.0,1046.0L276.4,1044.2L276.7,1042.3L277.1,1040.4L277.4,1038.6L277.8,1036.7L278.2,1034.8L278.6,1032.9L278.9,1031.0L279.3,1029.1L279.6,1027.6M280.1,1025.2L280.5,1023.3L280.9,1021.4L281.3,1019.5L281.7,1017.7L282.1,1015.8L282.5,1013.9L282.9,1012.0L283.3,1010.0L283.7,1008.1L284.2,1006.3L284.6,1004.4L285.0,1002.6L285.4,1000.7L285.9,998.8L286.3,996.9L286.8,994.9L287.2,993.1L287.7,991.2L288.1,989.4L288.6,987.5L289.1,985.5L289.6,983.6L290.0,981.7L290.5,979.8L291.0,977.9L291.5,976.0L292.0,974.2L292.5,972.3L292.9,970.5L293.4,968.7L293.9,966.9L294.2,966.0M312.6,907.0L313.2,905.2L313.8,903.5L314.4,901.7L315.1,899.9L315.7,898.2L316.3,896.5L317.0,894.8L317.6,893.0L318.2,891.3L318.8,889.6L319.5,887.9L320.1,886.2L320.8,884.3L321.5,882.5L322.2,880.6L322.9,878.8L323.6,877.0L324.3,875.2L325.0,873.4L325.7,871.7L326.4,869.9L327.1,868.1L327.8,866.4L328.5,864.7L329.2,862.9L329.9,861.2L330.6,859.5L331.3,857.9L332.0,856.2L332.7,854.5L333.4,852.9L333.6,852.4" stroke="#ff0000" stroke-width="7.3"/>
<path d="M254.0,1228.6L254.2,1226.6L254.3,1224.7L254.5,1222.8L254.7,1220.8L254.8,1218.9L255.0,1216.9L255.1,1215.0L255.3,1213.0L255.4,1211.1L255.6,1209.1L255.7,1207.2L255.9,1205.2L256.1,1203.3L256.2,1201.3M258.1,1178.9L258.2,1176.9L258.4,1175.0M260.7,1150.9L260.9,1148.9L261.1,1146.9L261.3,1144.9L261.5,1142.9L261.7,1141.0L261.9,1139.0L262.1,1137.0L262.4,1135.0L262.6,1133.0L262.8,1131.1L263.0,1129.1L263.3,1127.1L263.5,1125.2L263.7,1123.7M266.6,1101.7L266.8,1099.8L267.1,1097.8M270.6,1074.0L270.9,1072.1L271.2,1070.1L271.5,1068.2L271.8,1066.2L272.2,1064.3L272.5,1062.4L272.8,1060.4L273.1,1058.5L273.5,1056.6L273.8,1054.6L274.1,1052.7L274.5,1050.7L274.8,1048.8M278.9,1027.0L279.3,1025.1L279.7,1023.1M284.8,999.5L285.2,997.7L285.7,995.7L286.1,993.8L286.6,991.9L287.0,990.0L287.5,988.2L287.9,986.3L288.4,984.4L288.8,982.5L289.3,980.6L289.8,978.6L290.3,976.7L290.8,974.8M296.6,953.2L297.1,951.4L297.7,949.6M304.6,926.6L305.2,924.8L305.8,923.0L306.4,921.3L306.9,919.5L307.5,917.7L308.2,915.8L308.8,913.9L309.4,912.1L310.0,910.2L310.7,908.4L311.3,906.6L311.9,904.8L312.6,903.0L313.2,901.2M320.8,880.4L321.5,878.5L322.2,876.7M331.0,855.0L331.7,853.4L332.4,851.7L333.1,849.9L333.9,848.0L334.7,846.2L335.5,844.4L336.3,842.6L337.1,840.8L337.9,839.1L338.6,837.3L339.4,835.6L340.2,833.8L341.0,832.1M350.4,812.0L351.2,810.4L352.0,808.8M362.4,787.6L363.2,786.0L364.0,784.5L364.8,782.9L365.6,781.3L366.4,779.7L367.1,778.1L367.9,776.6L368.7,775.0L369.5,773.4L370.3,771.8L371.1,770.3L371.9,768.7L372.6,767.1L373.5,765.5L374.3,763.7L374.6,763.3M384.5,743.8L385.4,742.0L386.3,740.2M396.4,720.1L397.2,718.5L398.0,717.0L398.8,715.4L399.6,713.8L400.3,712.1L401.1,710.5L401.9,708.9L402.7,707.2L403.5,705.6L404.3,703.9L405.1,702.2L405.8,700.6L406.6,698.8L407.4,697.1L408.0,695.8M416.5,675.8L417.2,674.1L417.9,672.3M426.5,649.8L427.1,648.0L427.8,646.3L428.4,644.5L429.0,642.8L429.7,641.0L430.3,639.2L430.9,637.4L431.5,635.6L432.2,633.8L432.8,632.0L433.4,630.1L434.1,628.3L434.7,626.4L435.3,624.5L435.6,623.6M442.7,601.7L443.2,599.9L443.8,598.0M450.7,575.5L451.2,573.6L451.8,571.7L452.3,569.9L452.9,568.1L453.4,566.3L453.9,564.5L454.4,562.7L455.0,560.9L455.2,559.0L455.4,557.0L455.7,555.1L455.9,553.2L456.1,551.3L456.4,549.3M459.1,527.1L459.3,525.1L459.6,523.1M462.4,499.8L462.6,497.8L462.9,495.9L463.1,493.9L463.4,491.9L463.6,489.9L463.8,487.9L464.1,486.0L464.3,484.0L464.6,482.0L464.8,480.0L465.1,478.0L465.3,476.0L465.5,474.1L465.6,473.6M469.1,451.2L469.6,449.3L470.0,447.4M474.7,428.0L475.2,426.1L475.6,424.3L476.1,422.4L476.5,420.6L477.0,418.8L477.4,416.9L477.9,415.1L478.3,413.3L478.8,411.5L479.2,409.6L479.7,407.8L480.1,406.0L480.2,406.5M482.3,425.5L482.5,427.5L482.7,429.4M485.3,452.4L485.5,454.3L485.7,456.3L485.9,458.3L486.1,460.2L486.3,462.2L486.6,464.1L486.8,466.1L487.0,468.0L487.2,470.0L487.4,472.0L487.6,473.9L487.9,475.9L488.1,477.8L488.1,478.3M490.5,499.8L490.7,501.8L490.9,503.8M494.5,526.4L495.0,528.3L495.5,530.2L495.9,532.0L496.4,533.9L496.9,535.8L497.4,537.6L497.9,539.5L498.4,541.4L498.8,543.3L499.3,545.2L499.8,547.0L500.3,548.9L500.8,550.8L501.1,552.2M507.7,573.3L508.6,575.0L509.5,576.7M519.6,595.0L520.5,596.6L521.4,598.1L522.3,599.6L523.2,601.1L524.1,602.6L525.0,604.1L525.9,605.6L527.0,607.3L528.0,608.9L529.1,610.5L530.1,612.1L531.2,613.7L532.2,615.2L533.3,616.7M545.8,632.6L547.1,634.0L548.3,635.4M564.4,650.9L565.6,652.0L566.9,653.1L568.1,654.2L569.4,655.3L570.6,656.4L571.9,657.4L573.2,658.5L574.4,659.5L575.7,660.6L576.9,661.6L578.2,662.6L579.4,663.6L580.7,664.6L582.0,665.6L583.4,666.8L585.0,668.0L586.6,669.2M603.5,681.6L605.1,682.7L606.6,683.8M623.9,695.7L625.5,696.7L627.1,697.8L628.6,698.8L630.2,699.9L631.8,701.0L633.4,702.1L634.9,703.1L636.5,704.2L638.1,705.3L639.6,706.4L641.2,707.6L642.8,708.7L644.4,709.9L645.9,711.0L647.1,711.9M662.7,724.8L664.0,725.9L665.3,727.1M681.6,743.9L682.9,745.4L684.1,746.9L685.4,748.4L686.5,749.8L687.6,751.2L688.6,752.5L689.7,753.9L690.7,755.3L691.8,756.7L692.8,758.1L693.9,759.6L694.9,761.1L696.0,762.6L697.0,764.1L698.1,765.7L698.6,766.5M710.0,785.4L710.9,787.0L711.8,788.6M721.4,810.5L721.9,812.4L722.4,814.3L722.9,816.2L723.5,818.0L724.0,819.9L724.5,821.8L725.0,823.6L725.6,825.5L726.1,827.3L726.6,829.2L727.1,831.1L727.7,832.9L728.2,834.8L728.7,836.7M733.0,859.2L733.2,861.1L733.4,863.1M736.1,886.2L736.3,888.2L736.5,890.2L736.8,892.1L737.0,894.1L737.2,896.1L737.4,898.1L737.6,900.0L737.9,902.0L738.1,904.0L738.3,905.9L738.5,907.9L738.8,909.9L739.0,911.8L739.1,912.8M741.6,934.9L741.9,936.9L742.1,938.8M745.5,951.3L746.0,949.4L746.4,947.5L746.9,945.6L747.3,943.7L747.8,941.8L748.2,939.9L748.7,938.0L749.1,936.1L749.5,934.3L750.0,932.4L750.4,930.5L750.9,928.6L751.3,926.7L751.8,924.9L751.9,924.4M757.0,901.9L757.3,900.0L757.5,898.1M760.4,875.1L760.7,873.2L760.9,871.3L761.1,869.4L761.4,867.5L761.6,865.6L761.9,863.7L762.1,861.8L762.4,859.9L762.6,857.9L762.8,856.0L763.1,854.1L763.3,852.2L763.6,850.3L763.7,848.9M766.5,826.9L766.8,825.0L767.0,823.0M770.5,799.8L771.0,798.0L771.4,796.1L771.9,794.3L772.3,792.5L772.8,790.6L773.3,788.7L773.8,786.8L774.3,784.8L774.7,782.9L775.2,781.0L775.7,779.1L776.2,777.2L776.7,775.3L777.0,773.8M782.6,752.1L783.1,750.2L783.6,748.3M789.4,725.9L789.9,724.1L790.3,722.2L790.8,720.3L791.3,718.5L791.8,716.6L792.3,714.7L792.8,712.9L793.2,711.0L793.7,709.1L794.2,707.3L794.7,705.4L795.2,703.5L795.7,701.6L796.1,699.8M801.7,678.0L802.2,676.1L802.7,674.2M808.4,651.7L808.8,649.8L809.3,647.9L809.8,645.9L810.3,644.0L810.8,642.1L811.3,640.2L811.7,638.2L812.2,636.3L812.7,634.4L813.2,632.4L813.7,630.5L814.2,628.6L814.6,626.6L814.8,626.2M819.9,604.7L820.2,602.8L820.5,600.8M824.1,577.4L824.4,575.4L824.7,573.4L825.0,571.5L825.3,569.5L825.6,567.6L825.9,565.6L826.2,563.7L826.5,561.7L826.8,559.8L827.1,557.8L827.4,555.9L827.7,553.9L828.0,552.0L828.2,550.5M831.7,528.0L832.0,526.1L832.2,524.1M833.7,500.6L833.8,498.6L833.9,496.6L834.0,494.7L834.1,492.7L834.3,490.7L834.4,488.8L834.5,486.8L834.6,484.8L834.7,482.9L834.9,480.9L835.0,478.9L835.1,477.0L835.2,475.0L835.3,474.0M836.7,451.9L836.8,449.9L836.9,447.9M838.3,424.3L838.5,422.3L838.6,420.3L838.7,418.4L838.8,416.4L838.9,414.4L839.1,412.5L839.2,410.5L839.3,408.5L839.4,406.5L839.6,404.6L839.7,402.6L839.8,400.6L839.9,398.7L840.0,397.7M841.3,375.5L841.5,373.5L841.6,371.6M842.9,349.9L843.0,347.9L843.2,345.9L843.3,343.9L843.4,342.0L843.5,340.0L843.6,338.0L843.8,336.1L843.9,334.1L844.0,332.1L844.1,330.1L844.2,328.2L844.4,326.2L844.4,325.2M845.7,334.5L845.8,336.5L845.9,338.4L845.9,338.9M847.2,360.1L847.4,362.0L847.5,364.0L847.6,366.0L847.7,367.9L847.8,369.9L848.0,371.9L848.1,373.8L848.2,375.8L848.3,377.8L848.4,379.7L848.6,381.7L848.7,383.7L848.7,384.7M850.0,405.4L850.1,407.3L850.3,409.3M851.7,433.0L851.8,434.9L851.9,436.9L852.1,438.9L852.2,440.8L852.3,442.8L852.4,444.8L852.6,446.8L852.7,448.7L852.8,450.7L852.9,452.7L853.0,454.6L853.2,456.6L853.3,458.6L853.4,460.6M854.8,483.2L854.9,485.2L855.0,487.2M856.4,509.9L856.5,511.8L856.7,513.8L856.8,515.8L856.9,517.7L857.0,519.7L857.1,521.7L857.3,523.7L857.5,525.6L857.9,527.4L858.3,529.3L858.7,531.1L859.1,533.0L859.5,534.8L859.6,535.2M864.2,556.8L864.6,558.6L865.0,560.5M869.8,583.0L870.4,584.8L871.1,586.6L871.8,588.3L872.5,590.1L873.2,591.7L873.9,593.4L874.6,595.0L875.4,596.8L876.2,598.6L877.0,600.4L877.8,602.1L878.5,603.9L879.3,605.6L880.1,607.3L880.5,608.2M890.1,627.9L891.0,629.6L891.9,631.3M902.9,650.3L904.0,651.9L905.0,653.6L906.1,655.2L907.1,656.8L908.1,658.4L909.2,660.0L910.2,661.6L911.3,663.1L912.3,664.6L913.4,666.1L914.4,667.6L915.5,669.1L916.5,670.6L917.6,672.0L918.1,672.8M930.9,690.0L932.0,691.4L933.0,692.8M946.9,711.2L948.0,712.6L949.0,714.0L950.1,715.4L951.1,716.8L952.2,718.2L953.2,719.6L954.3,721.0L955.3,722.4L956.3,723.8L957.4,725.2L958.4,726.6L959.5,728.1L960.5,729.5L961.6,731.0L962.6,732.5L963.4,733.6M975.4,752.1L976.3,753.6L977.2,755.2M988.4,776.0L989.2,777.6L989.9,779.2L990.7,780.8L991.5,782.4L992.3,784.1L993.1,785.7L993.9,787.4L994.7,789.0L995.4,790.7L996.2,792.4L997.0,794.0L997.8,795.7L998.6,797.4L999.4,799.1L1000.2,800.8M1008.8,821.3L1009.2,823.2L1009.7,825.1M1015.2,848.4L1015.6,850.3L1016.1,852.2L1016.5,854.1L1017.0,856.1L1017.4,858.0L1017.9,859.9L1018.3,861.8L1018.8,863.7L1019.2,865.6L1019.7,867.6L1020.1,869.5L1020.6,871.4L1020.9,873.4L1021.1,875.3M1023.5,898.0L1023.7,899.9L1023.9,901.9M1026.4,925.0L1026.6,926.9L1026.8,928.9L1027.0,930.8L1027.2,932.8L1027.4,934.8L1027.7,936.7L1027.9,938.7L1028.1,940.7L1028.3,942.6L1028.5,944.6L1028.7,946.5L1028.9,948.5L1029.1,950.5L1029.2,951.0M1031.5,973.0L1031.7,974.9L1031.9,976.9M1035.2,983.7L1035.7,981.9L1036.2,980.0L1036.8,978.2L1037.3,976.3L1037.8,974.5L1038.3,972.6L1038.9,970.8L1039.4,968.9L1039.9,967.0L1040.4,965.2L1041.0,963.3L1041.5,961.5L1041.6,961.0M1046.3,942.7L1046.6,940.7L1046.9,938.7M1049.9,915.5L1050.2,913.5L1050.5,911.5L1050.7,909.6L1051.0,907.6L1051.2,905.6L1051.5,903.6L1051.8,901.7L1052.0,899.7L1052.3,897.7L1052.6,895.7L1052.8,893.7L1053.1,891.8L1053.3,889.8L1053.5,888.8M1056.4,866.7L1056.6,864.8L1056.9,862.9M1061.7,840.2L1062.3,838.3L1062.9,836.4L1063.5,834.6L1064.2,832.7L1064.8,830.9L1065.4,829.0L1066.1,827.2L1066.7,825.4L1067.3,823.6L1067.9,821.8L1068.6,820.1L1069.2,818.3L1069.8,816.5L1070.5,814.8M1078.4,794.0L1079.1,792.2L1079.8,790.6M1088.8,770.6L1089.6,769.0L1090.4,767.3L1091.3,765.6L1092.2,763.8L1093.1,762.1L1094.0,760.4L1094.9,758.8L1095.8,757.1L1096.7,755.5L1097.6,753.9L1098.5,752.4L1099.4,750.9L1100.3,749.3L1101.2,747.8L1101.4,747.5M1113.0,729.9L1114.0,728.4L1115.1,727.0M1129.2,709.3L1130.5,707.9L1131.8,706.5L1133.0,705.2L1134.3,703.9L1135.5,702.6L1136.8,701.3L1138.0,700.0L1139.3,698.8L1140.6,697.5L1141.8,696.3L1143.1,695.1L1144.3,693.9L1145.6,692.7L1146.8,691.5L1148.1,690.3L1149.4,689.1L1149.7,688.8M1165.1,673.7L1166.3,672.5L1167.6,671.2M1183.3,656.6L1184.6,655.5L1185.8,654.4L1187.1,653.4L1188.3,652.3L1189.6,651.3L1190.9,650.2L1192.1,649.2L1193.4,648.2L1194.6,647.2L1195.9,646.2L1197.1,645.2L1198.4,644.2L1199.7,643.2L1200.9,642.2L1202.2,641.2L1203.4,640.2L1204.7,639.2L1205.0,638.9M1220.7,626.1L1222.0,625.0L1223.2,623.9L1223.9,623.4M1240.4,609.9L1242.0,608.7L1243.6,607.5L1245.2,606.3L1246.7,605.1L1248.3,604.0L1249.9,602.8L1251.4,601.7L1253.0,600.5L1254.6,599.3L1256.2,598.2L1257.7,597.0L1259.3,595.8L1260.9,594.6L1262.4,593.4L1263.2,592.8M1278.6,579.9L1279.8,578.8L1281.1,577.7L1281.7,577.2M1298.0,562.6L1299.3,561.4L1300.6,560.3L1301.8,559.2L1303.1,558.0L1304.3,556.9L1305.6,555.7L1306.8,554.6L1308.1,553.4L1309.4,552.2L1310.6,551.0L1311.9,549.8L1313.1,548.6L1314.4,547.4L1315.6,546.2L1316.9,545.0L1318.2,543.7L1319.1,542.8M1333.6,527.3L1334.8,525.9L1336.1,524.5M1351.5,506.6L1352.7,505.1L1354.0,503.6L1355.3,502.1L1356.5,500.5L1357.7,499.1L1358.7,497.8L1359.8,496.4L1360.8,495.1L1361.9,493.7L1362.9,492.3L1364.0,490.8L1365.0,489.3L1366.0,487.8L1367.1,486.3L1368.1,484.7L1368.9,483.5M1379.5,463.9L1380.3,462.2L1381.1,460.5M1389.1,437.7L1389.6,435.9L1390.1,434.1L1390.6,432.3L1391.1,430.5L1391.6,428.7L1392.1,426.9L1392.5,425.1L1393.0,423.3L1393.4,421.5L1393.8,419.6L1394.2,417.8L1394.7,416.0L1395.1,414.1L1395.5,412.3L1395.7,411.3M1399.9,389.0L1400.2,387.0L1400.6,385.0M1404.2,361.8L1404.4,359.9L1404.7,358.0L1404.9,356.1L1405.2,354.2L1405.5,352.3L1405.7,350.4L1406.0,348.5L1406.2,346.6L1406.5,344.6L1406.7,342.7L1407.0,340.8L1407.2,338.8L1407.5,336.9L1407.7,335.4M1410.4,313.0L1410.6,311.0L1410.9,309.0M1413.5,286.0L1413.7,284.0L1413.9,282.0L1414.1,280.0L1414.3,278.1L1414.5,276.1L1414.7,274.1L1414.9,272.1L1415.1,270.1L1415.3,268.1L1415.5,266.2L1415.7,264.3L1415.9,262.3L1416.1,260.4L1416.2,259.4M1418.3,236.9L1418.4,234.9L1418.6,232.9M1419.5,221.2L1419.7,219.2L1419.9,217.3L1420.0,215.3L1421.1,216.6L1422.1,218.0L1423.2,219.3L1424.2,220.7L1425.3,222.1L1426.3,223.5L1426.5,225.4L1426.7,227.3L1426.9,229.3L1427.0,229.8M1428.2,240.4L1428.5,242.3L1428.7,244.3M1431.6,267.3L1431.8,269.2L1432.1,271.1L1432.3,273.0L1432.6,274.9L1432.8,276.9L1433.1,278.8L1433.4,280.7L1433.6,282.7L1433.9,284.6L1434.2,286.5L1434.4,288.4L1434.7,290.3L1434.9,292.2L1435.1,293.7M1438.3,316.0L1438.6,318.0L1438.9,319.9M1442.4,343.1L1442.7,345.1L1443.0,347.0L1443.4,349.0L1443.7,350.9L1444.0,352.8L1444.3,354.7L1444.6,356.6L1444.9,358.5L1445.2,360.4L1445.6,362.3L1445.9,364.2L1446.2,366.1L1446.6,368.0L1446.7,368.9M1451.0,391.0L1451.3,392.9L1451.7,394.8M1456.9,417.1L1457.4,419.0L1457.9,420.9L1458.3,422.7L1458.8,424.5L1459.3,426.2L1459.8,428.1L1460.4,429.9L1460.9,431.7L1461.4,433.6L1462.0,435.5L1462.6,437.4L1463.2,439.1L1463.7,440.9L1464.2,442.3M1471.9,462.6L1472.7,464.4L1473.5,466.2M1483.6,486.4L1484.5,488.0L1485.4,489.6L1486.3,491.1L1487.1,492.7L1488.0,494.2L1488.9,495.7L1489.8,497.2L1490.7,498.7L1491.8,500.4L1492.8,502.1L1493.9,503.7L1494.9,505.3L1496.0,507.0L1497.0,508.6L1497.8,509.8M1510.1,527.6L1511.2,529.0L1512.2,530.5M1525.6,549.1L1526.6,550.6L1527.7,552.1L1528.7,553.6L1529.8,555.1L1530.8,556.5L1531.9,558.0L1532.9,559.5L1534.0,561.0L1535.0,562.5L1536.1,564.0L1537.1,565.6L1538.2,567.1L1539.2,568.6L1540.3,570.1L1541.3,571.6L1541.6,572.0M1553.9,590.2L1554.9,591.8L1556.0,593.4M1568.0,613.5L1568.9,615.2L1569.8,616.9L1570.7,618.7L1571.5,620.4L1572.3,622.0L1573.1,623.7L1573.8,625.4L1574.6,627.1L1575.4,628.9L1576.1,630.6L1576.8,632.3L1577.5,634.0L1578.2,635.8L1578.9,637.6L1579.2,638.4M1586.2,659.7L1586.7,661.6L1587.3,663.5M1592.9,686.6L1593.3,688.4L1593.7,690.3L1594.1,692.2L1594.5,694.0L1594.8,695.9L1595.2,697.7L1595.6,699.6L1596.0,701.5L1596.3,703.3L1596.7,705.2L1597.0,707.0L1597.4,708.9L1597.7,710.8L1598.1,712.7L1598.1,713.2M1601.9,735.3L1602.2,737.3L1602.5,739.2M1605.9,762.2L1606.1,764.1L1606.4,766.1L1606.7,768.0L1606.9,769.9L1607.2,771.9L1607.4,773.9L1607.7,775.8L1607.9,777.8L1608.1,779.8L1608.4,781.8L1608.6,783.8L1608.8,785.8L1609.0,787.7L1609.1,788.7M1611.3,811.0L1611.5,813.0L1611.7,815.0M1624.2,817.6L1624.6,815.6L1624.8,813.7L1625.1,811.8L1625.4,809.8L1625.7,807.9L1626.0,806.0L1626.2,804.0L1626.4,802.1L1626.6,800.1L1626.9,798.2L1627.1,796.2L1627.3,794.3L1627.4,793.3M1629.5,773.1L1629.7,771.2L1629.9,769.2M1632.5,745.8L1632.8,743.8L1633.0,741.9L1633.2,739.9L1633.5,737.9L1633.7,736.0L1634.0,734.0L1634.2,732.1L1634.4,730.2L1634.7,728.3L1634.9,726.4L1635.2,724.4L1635.4,722.5L1635.7,720.6L1635.8,719.6M1638.9,697.3L1639.2,695.3L1639.5,693.4M1643.4,670.2L1643.7,668.3L1644.1,666.4L1644.4,664.5L1644.8,662.6L1645.1,660.8L1645.5,658.9L1645.9,657.0L1646.3,655.1L1646.6,653.3L1647.0,651.4L1647.4,649.5L1647.8,647.6L1648.2,645.8L1648.5,644.4M1653.8,622.6L1654.3,620.8L1654.9,618.9M1661.5,596.8L1662.1,595.0L1662.6,593.3L1663.2,591.5L1663.8,589.8L1664.4,587.9L1665.0,586.1L1665.7,584.2L1666.3,582.4L1666.9,580.6L1667.6,578.8L1668.2,577.0L1668.8,575.2L1669.4,573.5L1670.1,571.7L1670.2,571.2M1677.8,550.2L1678.4,548.4L1679.0,546.6M1686.7,524.3L1687.4,522.5L1688.0,520.6L1688.6,518.7L1689.3,516.8L1689.9,514.9L1690.5,513.1L1691.1,511.3L1691.6,509.6L1692.2,507.9L1692.8,506.1L1693.4,504.4L1693.9,502.6L1694.5,500.9L1695.1,499.1L1695.2,498.6M1701.1,477.3L1701.4,475.4L1701.8,473.4M1706.3,450.2L1706.6,448.3L1707.0,446.4L1707.4,444.4L1707.7,442.5L1708.1,440.6L1708.5,438.6L1708.8,436.7L1709.2,434.8L1709.6,432.8L1710.0,430.9L1710.3,429.0L1710.7,427.0L1711.1,425.1L1711.2,424.2M1713.3,401.6L1713.4,399.6L1713.5,397.6M1714.8,374.5L1714.9,372.5L1715.0,370.5L1715.1,368.5L1715.3,366.6L1715.4,364.6L1715.5,362.6L1715.6,360.6L1715.7,358.7L1715.8,356.7L1715.9,354.7L1716.0,352.7L1716.1,350.8L1716.2,348.8L1716.3,347.8M1717.5,325.6L1717.7,323.6L1717.8,321.7M1719.0,299.0L1719.1,297.0L1719.3,295.0L1719.4,293.0L1719.5,291.1L1719.6,289.1L1719.7,287.1L1719.8,285.1L1719.9,283.2L1720.0,281.2L1720.1,279.2L1720.2,277.2L1720.4,275.3L1720.5,273.3L1720.5,272.8M1721.7,251.1L1721.8,249.1L1721.9,247.1M1723.1,226.9L1723.2,224.9L1723.3,222.9L1723.4,221.0L1723.5,219.0L1723.6,217.0L1723.7,215.0L1723.8,213.1L1723.9,211.1L1724.0,209.1L1724.2,207.1L1724.3,205.2L1724.4,203.2M1725.5,202.3L1725.7,204.3L1725.8,206.3L1725.9,206.8M1727.2,227.0L1727.4,228.9L1727.5,230.9L1727.6,232.9L1727.8,234.8L1727.9,236.8L1728.0,238.7L1728.2,240.7L1728.3,242.6L1728.4,244.6L1728.6,246.6L1728.7,248.5L1728.8,250.5M1730.1,269.6L1730.3,271.5L1730.4,273.5M1732.0,296.5L1732.1,298.5L1732.3,300.5L1732.4,302.4L1732.5,304.4L1732.7,306.3L1732.8,308.3L1732.9,310.3L1733.1,312.2L1733.2,314.2L1733.3,316.1L1733.5,318.1L1733.6,320.1L1733.7,322.0L1733.8,322.5M1735.3,344.6L1735.4,346.6L1735.5,348.5M1737.1,372.1L1737.3,374.1L1737.4,376.0L1737.6,378.0L1737.9,379.9L1738.2,381.8L1738.5,383.8L1738.8,385.7L1739.2,387.6L1739.5,389.5L1739.8,391.5L1740.1,393.4L1740.4,395.3L1740.7,397.2L1741.0,398.7M1744.7,421.3L1745.0,423.2L1745.3,425.1M257.4,1186.7L257.6,1184.7L257.7,1182.8L257.9,1180.8L258.1,1178.9L258.2,1176.9L258.4,1175.0L258.6,1173.0L258.8,1171.0L258.9,1169.1L259.1,1167.1L259.3,1165.1L259.5,1163.2L259.7,1161.2M269.7,1079.8L270.0,1077.9L270.3,1075.9L270.6,1074.0L270.9,1072.1L271.2,1070.1L271.5,1068.2L271.8,1066.2L272.2,1064.3L272.5,1062.4L272.8,1060.4L273.1,1058.5L273.5,1056.6L273.8,1054.6L274.1,1052.7L274.5,1050.7L274.8,1048.8L275.1,1047.3M269.1,1084.2L269.3,1082.2L269.6,1080.3L269.9,1078.4L270.2,1076.4L270.5,1074.5L270.8,1072.5L271.1,1070.6L271.5,1068.7L271.8,1066.7L272.1,1064.8L272.4,1062.9L272.7,1060.9L273.0,1059.0L273.4,1057.0L273.7,1055.1L274.0,1053.2L274.4,1051.2L274.7,1049.3L275.1,1047.3L275.4,1045.4L275.8,1043.4L276.1,1041.6L276.5,1039.7L276.8,1037.8L277.2,1036.0L277.5,1034.1L277.9,1032.2L278.3,1030.3L278.6,1028.4L279.0,1026.5L279.4,1024.6L279.8,1022.7L280.2,1020.7L280.6,1018.8L281.0,1016.9L281.4,1015.1L281.8,1013.2L282.2,1011.3L282.6,1009.4L283.0,1007.5L283.4,1005.6L283.7,1004.1M284.0,1003.2L284.4,1001.4L284.8,999.5L285.2,997.7L285.7,995.7L286.1,993.8L286.6,991.9L287.0,990.0L287.5,988.2L287.9,986.3L288.4,984.4L288.8,982.5L289.3,980.6L289.8,978.6L290.3,976.7L290.8,974.8L291.3,973.0L291.7,971.1L292.2,969.3L292.7,967.4L293.2,965.6L293.7,963.8L294.2,962.0M321.2,879.5L321.9,877.6L322.6,875.8L323.3,874.0L323.6,873.1M341.6,830.8L342.4,829.1L343.2,827.4L344.0,825.7L344.7,824.0L345.5,822.3L346.3,820.7L347.1,819.0L347.9,817.3L348.7,815.7L349.5,814.1L350.2,812.4L351.0,810.8L351.8,809.2L352.6,807.6L353.4,805.9L354.2,804.3L355.0,802.7L355.7,801.1L356.5,799.5L357.3,797.9L358.1,796.3L358.9,794.8L359.7,793.2L360.5,791.6L361.2,790.0L362.0,788.4L362.8,786.8L363.6,785.2L364.4,783.7L365.2,782.1L366.0,780.5L366.7,778.9L367.5,777.4L368.3,775.8L369.1,774.2L369.9,772.6L370.7,771.1L371.5,769.5L372.2,767.9L373.0,766.4L373.9,764.6L374.8,762.8L375.7,761.1L376.6,759.3L377.5,757.5L378.4,755.7L379.3,753.9L380.2,752.2L381.1,750.4L382.0,748.6L382.9,746.9L383.8,745.1L384.7,743.3L385.1,742.4" stroke="#00ff00" stroke-width="7.6"/>
</g>
<g fill="none" stroke-linecap="round" stroke-width="7">
<line x1="1265.3" y1="986.6" x2="1413.3" y2="986.6" stroke="#000"/>
<line x1="1265.3" y1="1083.5" x2="1413.3" y2="1083.5" stroke="#ff0000" stroke-dasharray="24 34"/>
<line x1="1265.8" y1="1181.8" x2="1431.8" y2="1181.8" stroke="#00ff00" stroke-width="8" stroke-dasharray="29.1 19.8 3.4 20.5"/>
</g>
<text transform="translate(1450.21,1014.70) scale(0.9456,1)" font-size="79.0">Oringinal</text>
<text transform="translate(1449.65,1110.90) scale(0.9501,1)" font-size="79.0">Modified</text>
<text transform="translate(1450.06,1207.90) scale(0.9420,1)" font-size="79.0">ANSYS</text>
<text transform="translate(691.50,334.90) scale(0.9139,1)" font-size="71.0">48Hz</text>
<text transform="translate(1231.66,204.50) scale(0.9065,1)" font-size="71.0">94.2Hz</text>
<text transform="translate(1454.15,204.50) scale(0.9116,1)" font-size="71.0">95Hz</text>
<text transform="translate(778.60,1516.80) scale(0.9542,1)" font-size="78.0">Frequency(Hz)</text>
<text transform="translate(620.01,1433.30) scale(0.9456,1)" font-size="78.0" text-anchor="middle">30</text>
<text transform="translate(998.64,1433.30) scale(0.9456,1)" font-size="78.0" text-anchor="middle">60</text>
<text transform="translate(1377.27,1433.30) scale(0.9456,1)" font-size="78.0" text-anchor="middle">90</text>
<text transform="translate(1755.90,1433.30) scale(0.9456,1)" font-size="78.0" text-anchor="middle">120</text>
<text transform="translate(128.40,98.30) scale(0.9456,1)" font-size="78.0" text-anchor="start">10<tspan font-size="52" dy="-34">2</tspan></text>
<text transform="translate(128.40,310.95) scale(0.9456,1)" font-size="78.0" text-anchor="start">10<tspan font-size="52" dy="-34">1</tspan></text>
<text transform="translate(128.40,523.60) scale(0.9456,1)" font-size="78.0" text-anchor="start">10<tspan font-size="52" dy="-34">0</tspan></text>
<text transform="translate(112.40,736.25) scale(0.9456,1)" font-size="78.0" text-anchor="start">10<tspan font-size="52" dy="-34">-1</tspan></text>
<text transform="translate(112.40,948.90) scale(0.9456,1)" font-size="78.0" text-anchor="start">10<tspan font-size="52" dy="-34">-2</tspan></text>
<text transform="translate(112.40,1161.55) scale(0.9456,1)" font-size="78.0" text-anchor="start">10<tspan font-size="52" dy="-34">-3</tspan></text>
<text transform="translate(112.40,1374.20) scale(0.9456,1)" font-size="78.0" text-anchor="start">10<tspan font-size="52" dy="-34">-4</tspan></text>
<text transform="translate(91.8,1150.6) rotate(-90)" font-size="78">Vibration acceleration(m/s<tspan font-size="51" dy="-30" dx="2">2</tspan><tspan dy="30" dx="0">)</tspan></text>
</g>
</svg>
</body></html>
